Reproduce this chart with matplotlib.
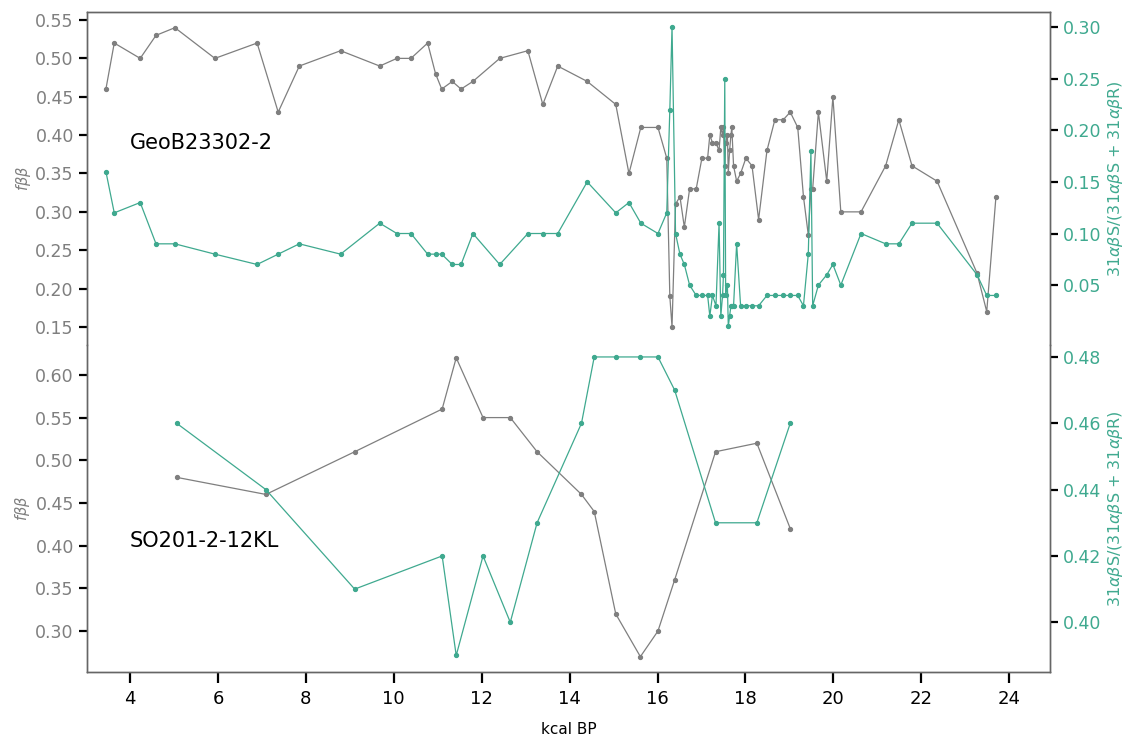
import matplotlib.pyplot as plt

# ---- GeoB23302-2 (top panel) ----
geob_age = [3.45, 3.64, 4.23, 4.59, 5.02, 5.93, 6.89, 7.37, 7.85, 8.79,
            9.68, 10.07, 10.39, 10.77, 10.95, 11.09, 11.33, 11.53, 11.80, 12.41,
            13.05, 13.39, 13.73, 14.40, 15.05, 15.35, 15.62, 16.01, 16.21, 16.28,
            16.33, 16.41, 16.51, 16.61, 16.73, 16.88, 17.01, 17.14, 17.19, 17.25,
            17.33, 17.40, 17.44, 17.48, 17.50, 17.53, 17.55, 17.59, 17.61, 17.64,
            17.67, 17.69, 17.73, 17.80, 17.89, 18.01, 18.15, 18.30, 18.49, 18.67,
            18.86, 19.02, 19.19, 19.32, 19.43, 19.49, 19.53, 19.66, 19.85, 19.99,
            20.17, 20.63, 21.19, 21.49, 21.79, 22.36, 23.27, 23.49, 23.70]
geob_fbb = [0.46, 0.52, 0.50, 0.53, 0.54, 0.50, 0.52, 0.43, 0.49, 0.51,
            0.49, 0.50, 0.50, 0.52, 0.48, 0.46, 0.47, 0.46, 0.47, 0.50,
            0.51, 0.44, 0.49, 0.47, 0.44, 0.35, 0.41, 0.41, 0.37, 0.19,
            0.15, 0.31, 0.32, 0.28, 0.33, 0.33, 0.37, 0.37, 0.40, 0.39,
            0.39, 0.38, 0.41, 0.40, 0.41, 0.36, 0.39, 0.40, 0.35, 0.38,
            0.40, 0.41, 0.36, 0.34, 0.35, 0.37, 0.36, 0.29, 0.38, 0.42,
            0.42, 0.43, 0.41, 0.32, 0.27, 0.33, 0.33, 0.43, 0.34, 0.45,
            0.30, 0.30, 0.36, 0.42, 0.36, 0.34, 0.22, 0.17, 0.32]
geob_ratio = [0.16, 0.12, 0.13, 0.09, 0.09, 0.08, 0.07, 0.08, 0.09, 0.08,
              0.11, 0.10, 0.10, 0.08, 0.08, 0.08, 0.07, 0.07, 0.10, 0.07,
              0.10, 0.10, 0.10, 0.15, 0.12, 0.13, 0.11, 0.10, 0.12, 0.22,
              0.30, 0.10, 0.08, 0.07, 0.05, 0.04, 0.04, 0.04, 0.02, 0.04,
              0.03, 0.11, 0.02, 0.04, 0.06, 0.25, 0.04, 0.05, 0.01, 0.02,
              0.03, 0.03, 0.03, 0.09, 0.03, 0.03, 0.03, 0.03, 0.04, 0.04,
              0.04, 0.04, 0.04, 0.03, 0.08, 0.18, 0.03, 0.05, 0.06, 0.07,
              0.05, 0.10, 0.09, 0.09, 0.11, 0.11, 0.06, 0.04, 0.04]

# ---- SO201-2-12KL (bottom panel) ----
so_age = [5.06, 7.09, 9.11, 11.10, 11.42, 12.03, 12.65, 13.26, 14.27, 14.56,
          15.05, 15.61, 16.01, 16.39, 17.32, 18.26, 19.02]
so_fbb = [0.48, 0.46, 0.51, 0.56, 0.62, 0.55, 0.55, 0.51, 0.46, 0.44,
          0.32, 0.27, 0.30, 0.36, 0.51, 0.52, 0.42]
so_ratio = [0.46, 0.44, 0.41, 0.42, 0.39, 0.42, 0.40, 0.43, 0.46, 0.48,
            0.48, 0.48, 0.48, 0.47, 0.43, 0.43, 0.46]

grey = '#7f7f7f'
teal = '#3fa98f'
spine_col = '#666666'
ratio_label = r'31$\alpha\beta$S/(31$\alpha\beta$S + 31$\alpha\beta$R)'

fig = plt.figure(figsize=(11.27, 7.38), dpi=100)
x0, x1 = 0.0772, 0.9317
ytop, ymid, ybot = 0.9837, 0.5325, 0.0894
ax_top = fig.add_axes([x0, ymid, x1 - x0, ytop - ymid])
ax_bot = fig.add_axes([x0, ybot, x1 - x0, ymid - ybot], sharex=ax_top)
ax_top_r = ax_top.twinx()
ax_bot_r = ax_bot.twinx()

ax_top.plot(geob_age, geob_fbb, color=grey, lw=0.9, marker='o', ms=2.8)
ax_top_r.plot(geob_age, geob_ratio, color=teal, lw=0.9, marker='o', ms=2.8)
ax_bot.plot(so_age, so_fbb, color=grey, lw=0.9, marker='o', ms=2.8)
ax_bot_r.plot(so_age, so_ratio, color=teal, lw=0.9, marker='o', ms=2.8)

ax_top.set_xlim(3.02, 24.93)
ax_top.set_ylim(0.1265, 0.5604)
ax_top_r.set_ylim(-0.008, 0.3145)
ax_bot.set_ylim(0.252, 0.635)
ax_bot_r.set_ylim(0.385, 0.4836)

ax_top.set_yticks([0.15, 0.20, 0.25, 0.30, 0.35, 0.40, 0.45, 0.50, 0.55])
ax_top_r.set_yticks([0.05, 0.10, 0.15, 0.20, 0.25, 0.30])
ax_bot.set_yticks([0.30, 0.35, 0.40, 0.45, 0.50, 0.55, 0.60])
ax_bot_r.set_yticks([0.40, 0.42, 0.44, 0.46, 0.48])
ax_bot.set_xticks([4, 6, 8, 10, 12, 14, 16, 18, 20, 22, 24])

for a in [ax_top, ax_top_r, ax_bot, ax_bot_r]:
    for s in a.spines.values():
        s.set_color(spine_col)
        s.set_linewidth(1.0)
    a.tick_params(axis='y', direction='out', length=6, width=1.6, color='black',
                  labelsize=12.5)

ax_bot.tick_params(axis='x', direction='out', length=8, width=1.6, color='black',
                   labelsize=13, pad=5)

for a in [ax_top, ax_top_r]:
    a.spines['bottom'].set_visible(False)
    a.tick_params(axis='x', bottom=False, labelbottom=False)
for a in [ax_bot, ax_bot_r]:
    a.spines['top'].set_visible(False)

for a in [ax_top, ax_bot]:
    a.tick_params(axis='y', labelcolor=grey)
    a.set_ylabel(r'$f\beta\beta$', color=grey, fontsize=10.5, labelpad=2)
for a in [ax_top_r, ax_bot_r]:
    a.tick_params(axis='y', labelcolor=teal)
    a.set_ylabel(ratio_label, color=teal, fontsize=11.5, labelpad=3)

ax_bot.set_xlabel('kcal BP', fontsize=11, va='center')
ax_bot.xaxis.set_label_coords(0.5, -0.177)

ax_top.text(4.0, 0.39, 'GeoB23302-2', fontsize=15, va='center', ha='left')
ax_bot.text(4.0, 0.406, 'SO201-2-12KL', fontsize=15, va='center', ha='left')

fig.savefig('out.png', dpi=100)
